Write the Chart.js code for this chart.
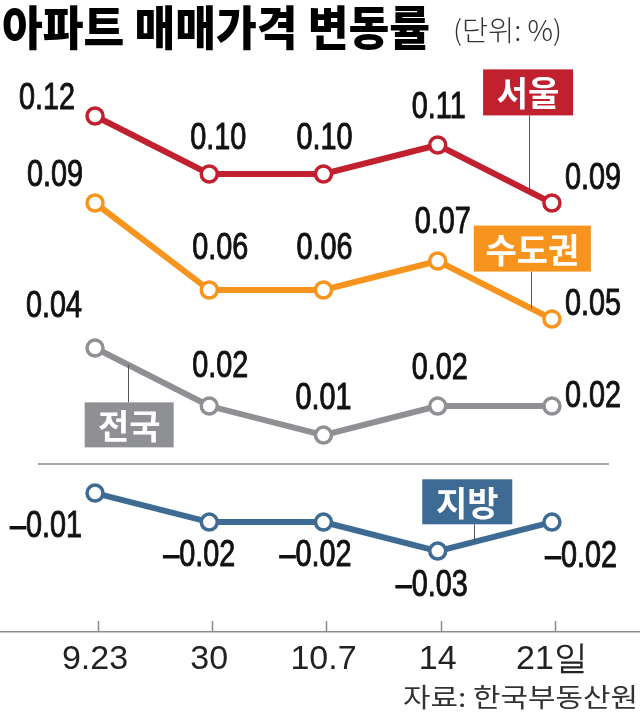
<!DOCTYPE html>
<html>
<head>
<meta charset="utf-8">
<script src="https://cdn.jsdelivr.net/npm/chart.js@4"></script>
<style>
body { margin: 0; background: #fff; }
</style>
</head>
<body>
<canvas id="grafico_variacao" width="640" height="715"></canvas>
<script>
// dados
var categorias = ['9.23', '30', '10.7', '14', '21일'];
var seoul = [0.12, 0.10, 0.10, 0.11, 0.09];
var sudogwon = [0.09, 0.06, 0.06, 0.07, 0.05];
var jeonguk = [0.04, 0.02, 0.01, 0.02, 0.02];
var jibang = [-0.01, -0.02, -0.02, -0.03, -0.02];

var fonteCJK = '"Noto Sans CJK KR", "Noto Sans", sans-serif';
var fonteNum = '"Liberation Sans", Arial, sans-serif';

function pontos(valores) {
    return valores.map(function (v, i) { return { x: i, y: v }; });
}

function serie(nome, valores, cor, rotulos, caixa) {
    return {
        label: nome,
        data: pontos(valores),
        borderColor: cor,
        borderWidth: 6,
        pointRadius: 8,
        pointBorderWidth: 3.5,
        pointBackgroundColor: '#fff',
        pointBorderColor: cor,
        tension: 0,
        clip: false,
        rotulos: rotulos, // [dx, dy, alinhamento] do texto de cada ponto
        caixa: caixa      // etiqueta com o nome da serie
    };
}

var datasets = [
    serie('서울', seoul, '#c1202f',
        [[-20, -17, 'right'], [9, -35, 'center'], [1, -35, 'center'], [1, -37, 'center'], [13, -24, 'left']],
        { seg: 3, t: 0.80, dx: -1, dy: -99, w: 90, h: 46 }),
    serie('수도권', sudogwon, '#f7941d',
        [[-12, -27, 'right'], [11, -41, 'center'], [1, -41, 'center'], [5, -38, 'center'], [13, -14, 'left']],
        { seg: 3, t: 0.82, dx: 1, dy: -60, w: 117, h: 46 }),
    serie('전국', jeonguk, '#8f9094',
        [[-13, -41, 'right'], [11, -39, 'center'], [0, -36, 'center'], [2, -37, 'center'], [13, -9, 'left']],
        { seg: 0, t: 0.29, dx: 1, dy: 60, w: 89, h: 45 }),
    serie('지방', jibang, '#3e6b94',
        [[-13, 34, 'right'], [-10, 34, 'center'], [-8, 34, 'center'], [-6, 35, 'center'], [-7, 35, 'left']],
        { seg: 3, t: 0.32, dx: -7, dy: -40, w: 90, h: 45 })
];

function formata(v) {
    return (v < 0 ? '–' : '') + Math.abs(v).toFixed(2);
}

// texto com largura ajustada (fonte condensada)
function textoLargura(ctx, txt, x, y, largura, align) {
    var w = ctx.measureText(txt).width;
    textoEscala(ctx, txt, x, y, largura / w, align, 0);
}

function textoEscala(ctx, txt, x, y, s, align, contorno) {
    ctx.save();
    ctx.translate(x, y);
    ctx.scale(s, 1);
    ctx.textAlign = align;
    ctx.fillText(txt, 0, 0);
    if (contorno) {
        ctx.lineWidth = contorno;
        ctx.strokeStyle = ctx.fillStyle;
        ctx.strokeText(txt, 0, 0);
    }
    ctx.restore();
}

var anotacoes = {
    id: 'anotacoes',
    beforeDatasetsDraw: function (chart) {
        var ctx = chart.ctx;
        var sx = chart.scales.x, sy = chart.scales.y;
        var y0 = sy.getPixelForValue(0);
        ctx.save();
        ctx.strokeStyle = '#8a8a8a';
        ctx.lineWidth = 1.5;
        ctx.beginPath();
        ctx.moveTo(sx.getPixelForValue(-0.5), y0);
        ctx.lineTo(sx.getPixelForValue(4.5), y0);
        // marcas do eixo x
        var base = chart.chartArea.bottom;
        categorias.forEach(function (c, i) {
            var px = Math.round(sx.getPixelForValue(i)) + 3.5;
            ctx.moveTo(px, base);
            ctx.lineTo(px, base - 11);
        });
        ctx.stroke();
        // rotulos do eixo x
        ctx.fillStyle = '#222';
        ctx.font = '34px ' + fonteNum;
        ctx.textAlign = 'center';
        ctx.textBaseline = 'middle';
        categorias.forEach(function (c, i) {
            ctx.fillText(c, sx.getPixelForValue(i), base + 28);
        });
        ctx.restore();
    },
    afterDatasetsDraw: function (chart) {
        var ctx = chart.ctx;
        ctx.save();
        chart.data.datasets.forEach(function (ds, di) {
            var meta = chart.getDatasetMeta(di);
            // valores
            ctx.fillStyle = '#111';
            ctx.font = '36px ' + fonteNum;
            ctx.textBaseline = 'middle';
            meta.data.forEach(function (p, i) {
                var r = ds.rotulos[i];
                textoEscala(ctx, formata(ds.data[i].y), p.x + r[0], p.y + r[1], 0.8, r[2], 0.9);
            });
            // etiqueta
            var c = ds.caixa;
            var a = meta.data[c.seg], b = meta.data[c.seg + 1];
            var ax = a.x + (b.x - a.x) * c.t, ay = a.y + (b.y - a.y) * c.t;
            var cx = ax + c.dx, cy = ay + c.dy;
            ctx.strokeStyle = '#555';
            ctx.lineWidth = 1;
            ctx.beginPath();
            ctx.moveTo(Math.round(ax) + 0.5, ay);
            ctx.lineTo(Math.round(ax) + 0.5, c.dy < 0 ? cy + c.h / 2 : cy - c.h / 2);
            ctx.stroke();
            ctx.fillStyle = ds.borderColor;
            ctx.fillRect(cx - c.w / 2, cy - c.h / 2, c.w, c.h);
            ctx.fillStyle = '#fff';
            ctx.font = 'bold 34px ' + fonteCJK;
            ctx.textAlign = 'center';
            ctx.fillText(ds.label, cx, cy + 1);
        });
        ctx.restore();
    },
    afterDraw: function (chart) {
        var ctx = chart.ctx;
        ctx.save();
        ctx.textBaseline = 'middle';
        ctx.fillStyle = '#000';
        ctx.font = '900 47px ' + fonteCJK;
        textoLargura(ctx, '아파트 매매가격 변동률', 2, 27, 428, 'left');
        ctx.fillStyle = '#333';
        ctx.font = '300 28px ' + fonteCJK;
        textoLargura(ctx, '(단위: %)', 453, 30, 109, 'left');
        ctx.font = '26px ' + fonteCJK;
        textoLargura(ctx, '자료: 한국부동산원', 638, 697, 235, 'right');
        ctx.restore();
    }
};

var ctx_variacao = document.getElementById('grafico_variacao').getContext('2d');

var config = {
    type: 'line',
    data: { datasets: datasets },
    options: {
        responsive: false,
        animation: false,
        layout: { autoPadding: false, padding: { top: 60, left: 0, right: 0, bottom: 0 } },
        scales: {
            x: {
                type: 'linear',
                min: -0.832,
                max: 4.771,
                grid: { display: false, drawTicks: false },
                border: { color: '#8a8a8a', width: 1.5 },
                afterFit: function (s) { s.height = 83; },
                ticks: { display: false }
            },
            y: {
                display: false,
                min: -0.0579,
                max: 0.1393
            }
        },
        plugins: {
            legend: { display: false },
            tooltip: { enabled: false }
        }
    },
    plugins: [anotacoes]
};

var grafico = new Chart(ctx_variacao, config);
</script>
</body>
</html>
